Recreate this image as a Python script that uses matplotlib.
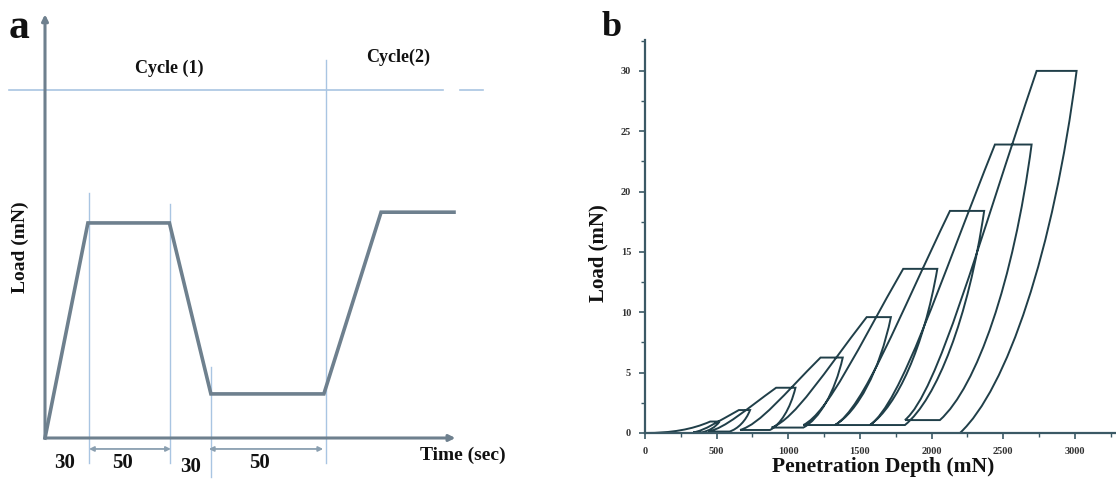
import matplotlib
matplotlib.use("Agg")
import matplotlib.pyplot as plt
from matplotlib.path import Path
from matplotlib.patches import PathPatch
from matplotlib.ticker import MultipleLocator

# ---------------- data: panel a (schematic load-time profile) ----------------
a_time = [0, 30, 87, 116, 195, 235, 286]          # schematic time (s)
a_load = [0, 10.0, 10.0, 2.05, 2.05, 10.5, 10.5]   # schematic load
a_segment_labels = ["30", "50", "30", "50"]
a_segment_centers = [14, 54, 102, 150]
a_guides_t = [30.8, 87.4, 116.1, 196.5]            # vertical guide lines
a_guides_top = [11.4, 10.9, 3.3, 17.6]
a_guides_bottom = [-1.16, -1.16, -1.8, -1.16]
a_cycle_level = 16.2

# ---------------- data: panel b (multi-cycle indentation curves) -------------
peak_load = [0.95, 1.9, 3.75, 6.25, 9.6, 13.6, 18.4, 23.9, 30.0]
hold_start = [455, 655, 915, 1225, 1547, 1802, 2128, 2442, 2733]
hold_end = [520, 733, 1050, 1380, 1716, 2040, 2367, 2698, 3012]
unload_end = [395, 590, 872, 1105, 1326, 1570, 1814, 2058, 2198]
low_load = [0.05, 0.12, 0.25, 0.45, 0.66, 0.66, 0.66, 1.07, 0.0]
reload_start = [0, 337, 442, 663, 884, 1105, 1326, 1570, 1814]
b_xticks = [0, 500, 1000, 1500, 2000, 2500, 3000]
b_yticks = [0, 5, 10, 15, 20, 25, 30]

SERIF = ["Liberation Serif", "DejaVu Serif"]
W, H = 1116, 493
fig = plt.figure(figsize=(W / 100, H / 100), dpi=100)
fig.patch.set_facecolor("white")


def fx(px):
    return px / W


def fy(py):
    return 1 - py / H


# ============================ panel a ========================================
line_c = "#6e808e"
guide_c = "#a9c5e2"
axa = fig.add_axes([fx(45), fy(438), 410 / W, 420 / H])
axa.set_xlim(0, 286.7)
axa.set_ylim(0, 19.53)
axa.axis("off")

# guide lines
axa.plot([-25.2, 278.3], [a_cycle_level, a_cycle_level], color=guide_c, lw=1.2, clip_on=False)
axa.plot([290.2, 306.3], [a_cycle_level, a_cycle_level], color=guide_c, lw=1.2, clip_on=False)
for t, y0, y1 in zip(a_guides_t, a_guides_bottom, a_guides_top):
    axa.plot([t, t], [y0, y1], color=guide_c, lw=1.0, clip_on=False)

# axes arrows
axa.annotate("", xy=(0, 19.7), xytext=(0, 0),
             arrowprops=dict(arrowstyle="-|>", color=line_c, lw=2.2, mutation_scale=9,
                             shrinkA=0, shrinkB=0), annotation_clip=False)
axa.annotate("", xy=(287, 0), xytext=(0, 0),
             arrowprops=dict(arrowstyle="-|>", color=line_c, lw=2.2, mutation_scale=9,
                             shrinkA=0, shrinkB=0), annotation_clip=False)

# profile
axa.plot(a_time, a_load, color=line_c, lw=2.6, solid_joinstyle="miter", clip_on=False)

# dimension arrows
for x0, x1 in [(a_guides_t[0], a_guides_t[1] + 0.6), (a_guides_t[2] - 1.5, a_guides_t[3] - 2)]:
    axa.annotate("", xy=(x0, -0.51), xytext=(x1, -0.51),
                 arrowprops=dict(arrowstyle="<|-|>", color="#8a9fb0", lw=1.3, mutation_scale=7,
                                 shrinkA=0, shrinkB=0), annotation_clip=False)

for lab, c, yy in zip(a_segment_labels, a_segment_centers, [-1.16, -1.16, -1.35, -1.16]):
    axa.text(c, yy, lab, ha="center", va="center", fontsize=15, fontweight="bold",
             family=SERIF, color="#111111", clip_on=False)

fig.text(fx(463), fy(455), "Time (sec)", ha="center", va="center", fontsize=14,
         fontweight="bold", family=SERIF, color="#111111")
fig.text(fx(169), fy(68), "Cycle (1)", ha="center", va="center", fontsize=13,
         fontweight="bold", family=SERIF, color="#111111")
fig.text(fx(398), fy(57), "Cycle(2)", ha="center", va="center", fontsize=13,
         fontweight="bold", family=SERIF, color="#111111")
fig.text(fx(20), fy(247), "Load (mN)", ha="center", va="center", fontsize=14,
         fontweight="bold", family=SERIF, color="#111111", rotation=90)
fig.text(fx(19), fy(28), "a", ha="center", va="center", fontsize=30,
         fontweight="bold", family=SERIF, color="#111111")

# ============================ panel b ========================================
curve_c = "#203f49"
axis_c = "#3b5965"
axb = fig.add_axes([fx(645), fy(433), (W - 645) / W, 393 / H])
axb.set_xlim(0, 3287)
axb.set_ylim(0, 32.56)
for s in ["top", "right"]:
    axb.spines[s].set_visible(False)
for s in ["left", "bottom"]:
    axb.spines[s].set_color(axis_c)
    axb.spines[s].set_linewidth(1.6)
axb.set_xticks(b_xticks)
axb.set_yticks(b_yticks)
axb.xaxis.set_minor_locator(MultipleLocator(250))
axb.yaxis.set_minor_locator(MultipleLocator(2.5))
axb.tick_params(which="major", length=4, width=1.2, color=axis_c, labelsize=7.5,
                labelcolor="#333333", pad=6)
axb.tick_params(which="minor", length=3, width=1.0, color=axis_c)
for lab in axb.get_xticklabels() + axb.get_yticklabels():
    lab.set_fontweight("bold")
    lab.set_family(SERIF)

verts, codes = [], []
n = len(peak_load)
for k in range(n):
    x0 = reload_start[k]
    y0 = 0.0 if k == 0 else low_load[k - 1]
    x1, y1 = hold_start[k], peak_load[k]
    w, h = x1 - x0, y1 - y0
    if k == 0:
        c1 = (x0 + 0.4 * w, y0)
        c2 = (x0 + 0.72 * w, y0 + 0.3 * h)
    else:
        c1 = (x0 + 0.25 * w, y0 + 0.08 * h)
        c2 = (x0 + 0.55 * w, y0 + 0.5 * h)
    verts += [(x0, y0), c1, c2, (x1, y1)]
    codes += [Path.MOVETO, Path.CURVE4, Path.CURVE4, Path.CURVE4]
    # hold at peak
    xb = hold_end[k]
    verts.append((xb, y1))
    codes.append(Path.LINETO)
    # unload
    xc, yc = unload_end[k], low_load[k]
    w2, h2 = xb - xc, y1 - yc
    verts += [(xc + 0.8 * w2, yc + 0.5 * h2), (xc + 0.4 * w2, yc + 0.12 * h2), (xc, yc)]
    codes += [Path.CURVE4, Path.CURVE4, Path.CURVE4]
    # low-load hold back to next reload start
    if k + 1 < n:
        verts.append((reload_start[k + 1], yc))
        codes.append(Path.LINETO)

patch = PathPatch(Path(verts, codes), facecolor="none", edgecolor=curve_c, lw=1.4,
                  clip_on=False, joinstyle="miter")
axb.add_patch(patch)

fig.text(fx(883), fy(467), "Penetration Depth (mN)", ha="center", va="center",
         fontsize=15.5, fontweight="bold", family=SERIF, color="#111111")
fig.text(fx(598), fy(253), "Load (mN)", ha="center", va="center", fontsize=15,
         fontweight="bold", family=SERIF, color="#111111", rotation=90)
fig.text(fx(612), fy(28), "b", ha="center", va="center", fontsize=26,
         fontweight="bold", family=SERIF, color="#111111")

fig.savefig("out.png", dpi=100, facecolor="white")
